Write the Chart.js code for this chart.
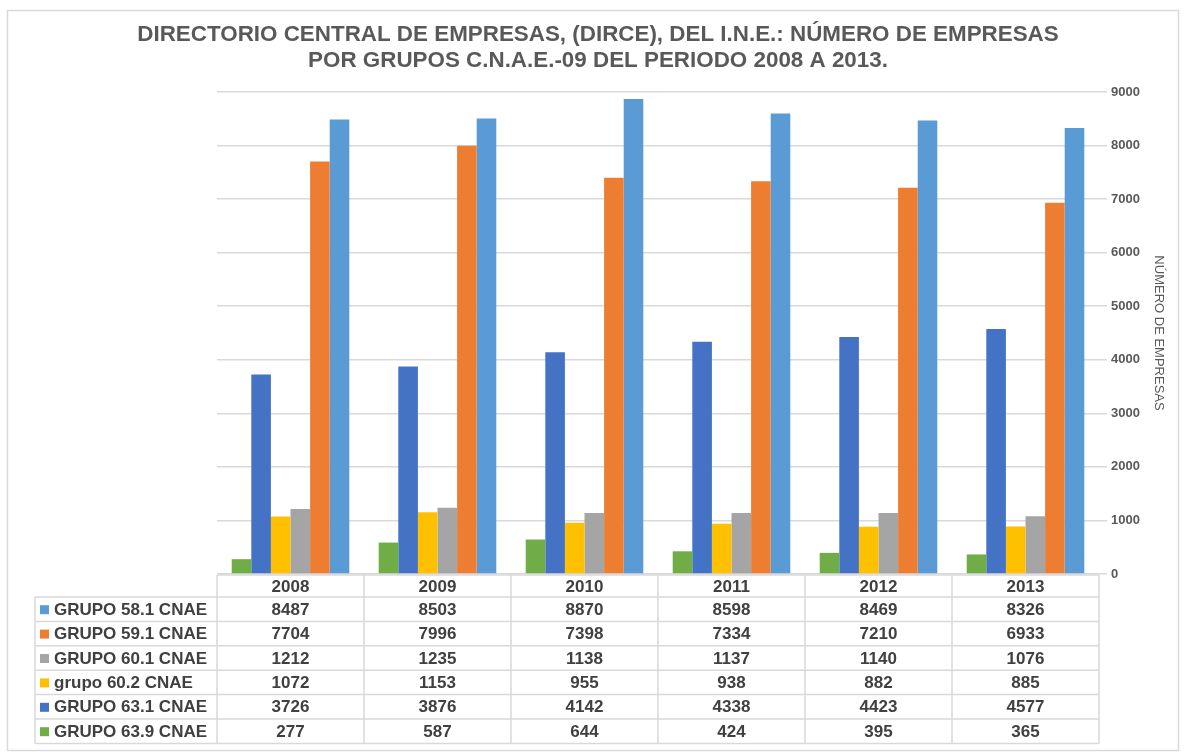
<!DOCTYPE html>
<html>
<head>
<meta charset="utf-8">
<script src="https://cdn.jsdelivr.net/npm/chart.js@4/dist/chart.umd.min.js"></script>
<style>
body { margin: 0; background: #fff; }
</style>
</head>
<body>
<canvas id="graf-empresas" width="1185" height="753"></canvas>
<script>
const years = ["2008", "2009", "2010", "2011", "2012", "2013"]
const grupo581 = [8487, 8503, 8870, 8598, 8469, 8326]
const grupo591 = [7704, 7996, 7398, 7334, 7210, 6933]
const grupo601 = [1212, 1235, 1138, 1137, 1140, 1076]
const grupo602 = [1072, 1153, 955, 938, 882, 885]
const grupo631 = [3726, 3876, 4142, 4338, 4423, 4577]
const grupo639 = [277, 587, 644, 424, 395, 365]
const yTicks = [0, 1000, 2000, 3000, 4000, 5000, 6000, 7000, 8000, 9000]
const titulo = [
    "DIRECTORIO CENTRAL DE EMPRESAS, (DIRCE), DEL I.N.E.: NÚMERO DE EMPRESAS",
    "POR GRUPOS C.N.A.E.-09 DEL PERIODO 2008 A 2013."
]

// orden de las barras dentro de cada año
let series = [
    { label: "GRUPO 63.9 CNAE", data: grupo639, color: "#70ad47" },
    { label: "GRUPO 63.1 CNAE", data: grupo631, color: "#4472c4" },
    { label: "grupo 60.2 CNAE", data: grupo602, color: "#ffc000" },
    { label: "GRUPO 60.1 CNAE", data: grupo601, color: "#a5a5a5" },
    { label: "GRUPO 59.1 CNAE", data: grupo591, color: "#ed7d31" },
    { label: "GRUPO 58.1 CNAE", data: grupo581, color: "#5b9bd5" }
]

const textColor = "#404040"
const lineColor = "#d9d9d9"
const fuente = "'Liberation Sans', Arial, sans-serif"

// titulo centrado en todo el lienzo + tabla de datos debajo (como en Excel)
const tablaDatos = {
    id: "tablaDatos",
    afterDraw(chart) {
        const ctx = chart.ctx
        const xs = chart.scales.x
        const area = chart.chartArea
        const colW = xs.width / years.length
        const top = area.bottom + 1
        const headH = 22
        const rowH = 24.4
        const labelLeft = 35
        const filas = series.slice().reverse()
        ctx.save()
        // marco exterior
        ctx.strokeStyle = lineColor
        ctx.lineWidth = 1.5
        ctx.strokeRect(7.5, 10.5, 1171, 740)

        // titulo
        ctx.font = "bold 22.4px " + fuente
        ctx.fillStyle = "#595959"
        ctx.textAlign = "center"
        ctx.textBaseline = "middle"
        ctx.fillText(titulo[0], 598, 35)
        ctx.fillText(titulo[1], 598, 61)

        const tableBottom = top + headH + rowH * filas.length
        // líneas horizontales
        ctx.beginPath()
        ctx.moveTo(area.left, top)
        ctx.lineTo(area.right, top)
        for (let r = 0; r <= filas.length; r++) {
            let y = top + headH + rowH * r
            ctx.moveTo(labelLeft, y)
            ctx.lineTo(area.right, y)
        }
        // líneas verticales
        ctx.moveTo(labelLeft, top + headH)
        ctx.lineTo(labelLeft, tableBottom)
        for (let i = 0; i <= years.length; i++) {
            let x = xs.getPixelForValue(0) - colW / 2 + colW * i
            ctx.moveTo(x, top)
            ctx.lineTo(x, tableBottom)
        }
        ctx.stroke()

        ctx.font = "bold 17px " + fuente
        ctx.fillStyle = textColor
        years.forEach((yr, i) => {
            ctx.fillText(yr, xs.getPixelForValue(i), top + headH / 2 + 1)
        })
        filas.forEach((s, r) => {
            let yMid = top + headH + rowH * r + rowH / 2 + 1
            ctx.fillStyle = s.color
            ctx.fillRect(labelLeft + 5, yMid - 5, 9, 9)
            ctx.fillStyle = textColor
            ctx.textAlign = "left"
            ctx.fillText(s.label, labelLeft + 19, yMid)
            ctx.textAlign = "center"
            s.data.forEach((v, i) => {
                ctx.fillText(String(v), xs.getPixelForValue(i), yMid)
            })
        })
        ctx.restore()
    }
}

new Chart("graf-empresas", {
    type: "bar",
    data: {
        labels: years,
        datasets: series.map(s => ({
            label: s.label,
            data: s.data,
            backgroundColor: s.color,
            categoryPercentage: 0.8,
            barPercentage: 1.0
        }))
    },
    options: {
        responsive: false,
        animation: false,
        layout: {
            padding: { top: 92, left: 217, right: 15, bottom: 179 }
        },
        plugins: {
            legend: { display: false },
            tooltip: { enabled: false },
            title: { display: false }
        },
        scales: {
            x: {
                display: false
            },
            y: {
                position: "right",
                min: 0,
                max: 9000,
                afterBuildTicks: axis => { axis.ticks = yTicks.map(v => ({ value: v })) },
                afterFit: axis => { axis.width = 71 },
                grid: { color: lineColor, lineWidth: 1.5, tickLength: 8 },
                border: { display: false },
                ticks: {
                    padding: 4,
                    color: "#595959",
                    font: { family: fuente, size: 13, weight: "bold" },
                    callback: v => String(v)
                },
                title: {
                    display: true,
                    text: "NÚMERO DE EMPRESAS",
                    color: "#595959",
                    font: { family: fuente, size: 13 },
                    padding: 4
                }
            }
        }
    },
    plugins: [tablaDatos]
})
</script>
</body>
</html>
